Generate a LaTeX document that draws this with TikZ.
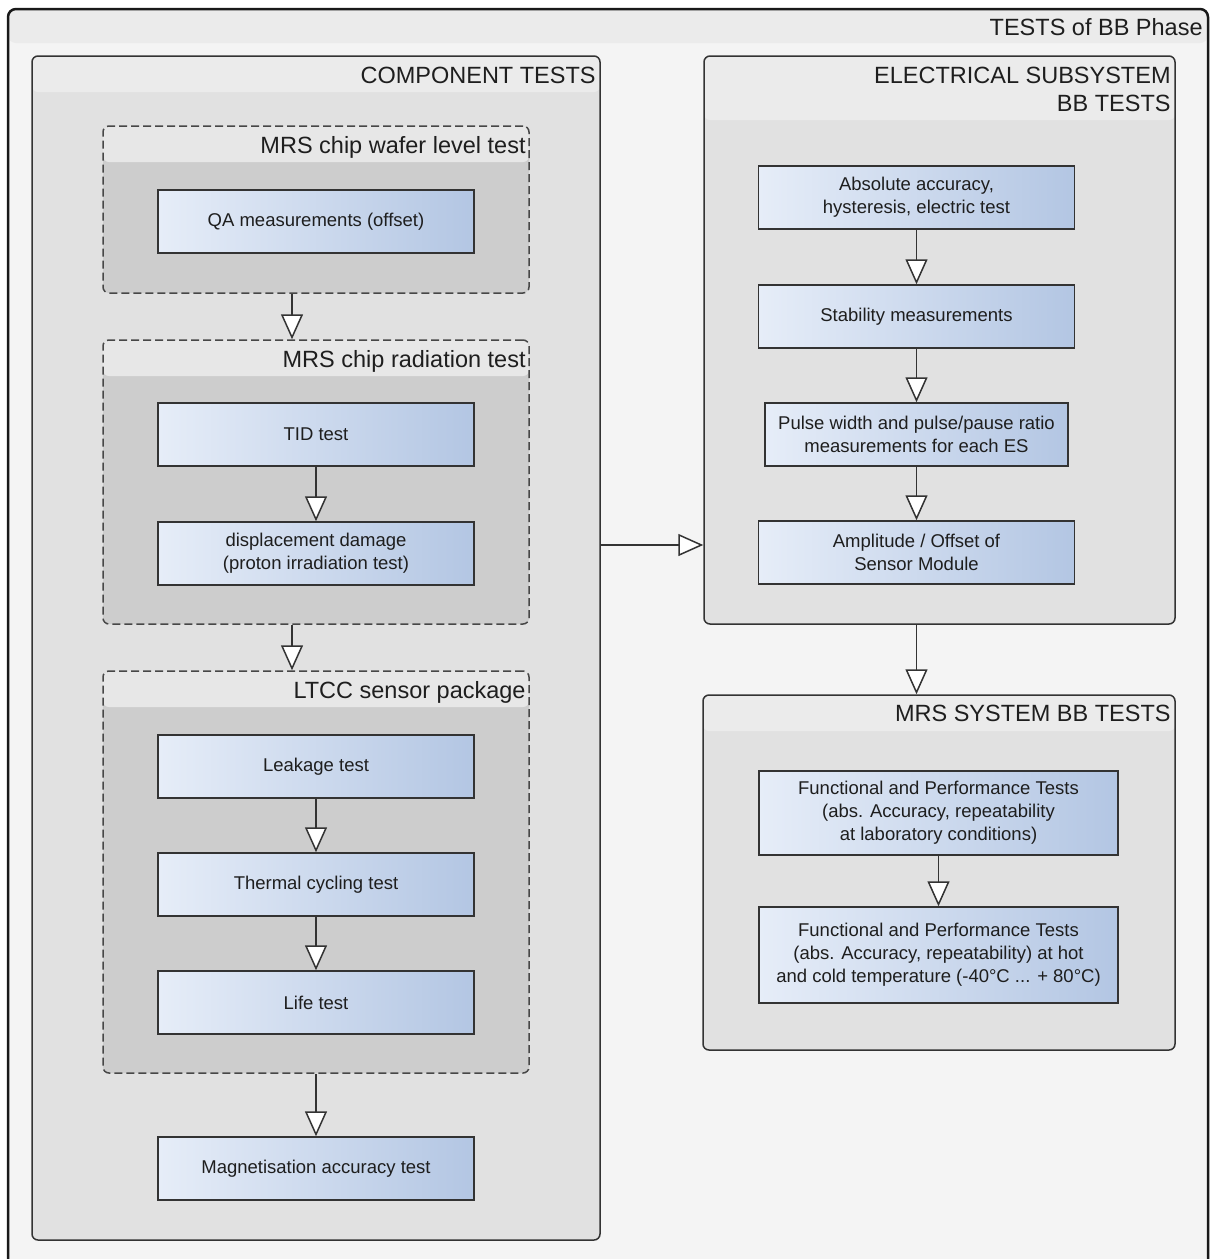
\documentclass[tikz,border=0pt]{standalone}
\usepackage{fontspec}
\setmainfont{Liberation Sans}
\usetikzlibrary{arrows.meta}
\definecolor{outerbody}{HTML}{F4F4F4}
\definecolor{outerhdr}{HTML}{EBEBEB}
\definecolor{contbody}{HTML}{E1E1E1}
\definecolor{conthdr}{HTML}{EBEBEB}
\definecolor{dashbody}{HTML}{CDCDCD}
\definecolor{dashhdr}{HTML}{E7E7E7}
\definecolor{boxL}{HTML}{E6EDF8}
\definecolor{boxR}{HTML}{B3C6E3}
\definecolor{lineC}{HTML}{333333}
\definecolor{textC}{HTML}{1E1E1E}
\tikzset{
  hdr h/.store in=\hdrh, hdr h=18pt,
  hdr col/.store in=\hdrc, hdr col=conthdr,
  container/.style={draw=lineC, line width=0.75pt, rounded corners=3pt, fill=contbody, inner sep=0pt,
    path picture={\fill[\hdrc] (path picture bounding box.north west) rectangle ([yshift=-\hdrh]path picture bounding box.north east);}},
  dashcont/.style={container, dash pattern=on 4pt off 2pt, draw=lineC!90, fill=dashbody, hdr col=dashhdr},
  tbox/.style={draw=lineC, line width=0.75pt, left color=boxL, right color=boxR, align=center, text=textC,
    font=\fontsize{9.25}{11.5}\selectfont, inner sep=2pt, minimum width=158pt, minimum height=31.5pt},
  hlabel/.style={anchor=base east, inner sep=0pt, text=textC, align=right, font=\fontsize{11.75}{14}\selectfont},
  arr/.style={draw=lineC, line width=0.75pt, -{Triangle[width=11pt,length=12.5pt,fill=white]}}
}
\begin{document}
\begin{tikzpicture}[x=0.5pt,y=-0.5pt]
\useasboundingbox (0,0) rectangle (1210,1259);
\clip (0,0) rectangle (1210,1259);
% outer frame
\node (outer) [container, fill=outerbody, hdr col=outerhdr, hdr h=17pt, draw=black!90, line width=1.25pt, rounded corners=4pt,
  minimum width=600pt, minimum height=640pt] at (608,649) {};
\node (tOuter) [hlabel] at (1203,35) {TESTS of BB Phase};

% component tests
\node (comp) [container, hdr h=18pt, minimum width=284pt, minimum height=592pt] at (316,648) {};
\node (tComp) [hlabel] at (596,83) {COMPONENT TESTS};

\node (dw) [dashcont, hdr h=18pt, minimum width=213pt, minimum height=83.5pt] at (316,209.5) {};
\node (tDw) [hlabel] at (526,153) {MRS chip wafer level test};
\node (qa) [tbox] at (316,221.5) {QA measurements (offset)};

\node (dr) [dashcont, hdr h=18pt, minimum width=213pt, minimum height=142pt] at (316,482) {};
\node (tDr) [hlabel] at (526,367) {MRS chip radiation test};
\node (tid) [tbox] at (316,434.5) {TID test};
\node (disp) [tbox] at (316,553.5) {displacement damage\\(proton irradiation test)};

\node (dl) [dashcont, hdr h=18pt, minimum width=213pt, minimum height=201pt] at (316,872) {};
\node (tDl) [hlabel] at (526,698) {LTCC sensor package};
\node (leak) [tbox] at (316,766.5) {Leakage test};
\node (therm) [tbox] at (316,884.5) {Thermal cycling test};
\node (life) [tbox] at (316,1002.5) {Life test};

\node (mag) [tbox] at (316,1168.5) {Magnetisation accuracy test};

% electrical subsystem
\node (elec) [container, hdr h=32pt, minimum width=235.5pt, minimum height=284pt] at (939.5,340) {};
\node (tElec) [hlabel] at (1171,111) {ELECTRICAL SUBSYSTEM\\BB TESTS};
\node (abs) [tbox] at (916.5,197.5) {Absolute accuracy,\\hysteresis, electric test};
\node (stab) [tbox] at (916.5,316.5) {Stability measurements};
\node (pulse) [tbox, minimum width=151.5pt] at (916.5,434.5) {Pulse width and pulse/pause ratio\\measurements for each ES};
\node (amp) [tbox] at (916.5,552.5) {Amplitude / Offset of\\Sensor Module};

% MRS system
\node (mrs) [container, hdr h=18pt, minimum width=236pt, minimum height=177.5pt] at (939,872.5) {};
\node (tMrs) [hlabel] at (1171,721) {MRS SYSTEM BB TESTS};
\node (f1) [tbox, minimum width=179.5pt, minimum height=42pt] at (938.5,813) {Functional and Performance Tests\\(abs. Accuracy, repeatability\\at laboratory conditions)};
\node (f2) [tbox, minimum width=179.5pt, minimum height=48pt] at (938.5,955) {Functional and Performance Tests\\(abs. Accuracy, repeatability) at hot\\and cold temperature (-40°C ... + 80°C)};

% connectors
\draw[arr] ([xshift=-12pt]dw.south) -- ([xshift=-12pt]dr.north);
\draw[arr] (tid) -- (disp);
\draw[arr] ([xshift=-12pt]dr.south) -- ([xshift=-12pt]dl.north);
\draw[arr] (leak) -- (therm);
\draw[arr] (therm) -- (life);
\draw[arr] (dl.south) -- (mag.north);
\draw[arr] (abs) -- (stab);
\draw[arr] (stab) -- (pulse);
\draw[arr] (pulse) -- (amp);
\coordinate (lvl) at (0,545);
\draw[arr] (comp.east |- lvl) -- (elec.west |- lvl);
\draw[arr] (elec.south -| abs.center) -- (mrs.north -| abs.center);
\draw[arr] (f1) -- (f2);
\end{tikzpicture}
\end{document}
